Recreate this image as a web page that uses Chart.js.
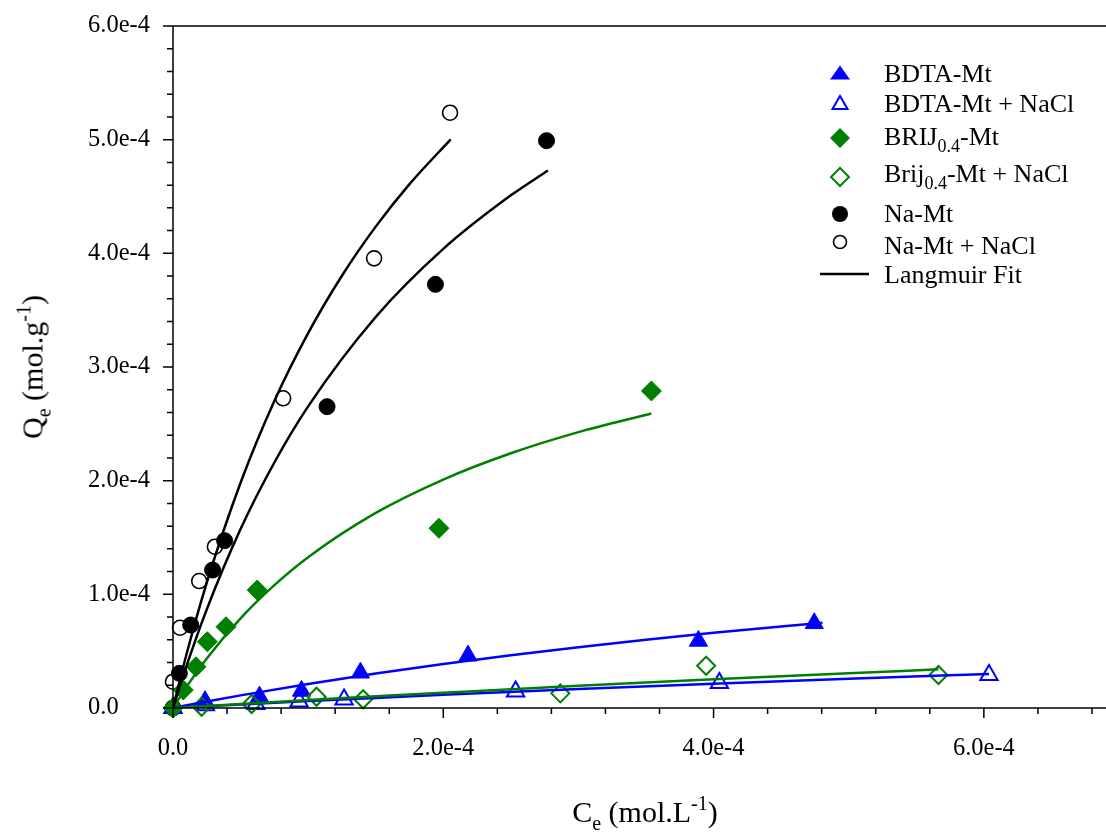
<!DOCTYPE html>
<html>
<head>
<meta charset="utf-8">
<script src="https://cdn.jsdelivr.net/npm/chart.js@4.4.1/dist/chart.umd.min.js"></script>
<style>
  html, body { margin: 0; padding: 0; background: #fff; }
  #wrap { position: relative; width: 1106px; height: 832px; overflow: hidden; font-family: "Liberation Serif", "Times New Roman", serif; color: #000; }
  #chart { position: absolute; left: 0; top: 0; }
  .title { position: absolute; white-space: nowrap; font-size: 30px; line-height: 36px; }
  .title .sub { position: relative; top: 8px; font-size: 20px; }
  .title .sup { position: relative; top: -12px; font-size: 20px; }
  .row { position: absolute; left: 884px; white-space: nowrap; font-size: 26px; line-height: 30px; }
  .row .sub { position: relative; top: 7px; font-size: 18px; }
  .mk { position: absolute; left: 828px; width: 24px; height: 24px; }
</style>
</head>
<body>
<div id="wrap">
  <canvas id="chart" width="1106" height="832"></canvas>

  <div class="title" id="yTitle" style="left:34px; top:367px; transform: translate(-50%, -50%) rotate(-90deg);">Q<span class="sub">e</span> (mol.g<span class="sup">-1</span>)</div>
  <div class="title" id="xTitle" style="left:645px; top:794px; transform: translateX(-50%);">C<span class="sub">e</span> (mol.L<span class="sup">-1</span>)</div>

  <!-- legend -->
  <svg class="mk" style="top:61px" viewBox="0 0 24 24"><polygon points="2,18.5 22,18.5 12,4.5" fill="#0000ff"/></svg>
  <div class="row" style="top:59px">BDTA-Mt</div>
  <svg class="mk" style="top:91px" viewBox="0 0 24 24"><polygon points="4.5,18 19.5,18 12,5" fill="none" stroke="#0000ff" stroke-width="2"/></svg>
  <div class="row" style="top:89px">BDTA-Mt + NaCl</div>
  <svg class="mk" style="top:126px" viewBox="0 0 24 24"><polygon points="12,2 22,12 12,22 2,12" fill="#008000"/></svg>
  <div class="row" style="top:122px">BRIJ<span class="sub">0.4</span>-Mt</div>
  <svg class="mk" style="top:165px" viewBox="0 0 24 24"><polygon points="12,3 21,12 12,21 3,12" fill="none" stroke="#008000" stroke-width="2"/></svg>
  <div class="row" style="top:159px">Brij<span class="sub">0.4</span>-Mt + NaCl</div>
  <svg class="mk" style="top:202px" viewBox="0 0 24 24"><circle cx="12" cy="12" r="8" fill="#000"/></svg>
  <div class="row" style="top:199px">Na-Mt</div>
  <svg class="mk" style="top:230px" viewBox="0 0 24 24"><circle cx="12" cy="12" r="6.5" fill="none" stroke="#000" stroke-width="1.6"/></svg>
  <div class="row" style="top:231px">Na-Mt + NaCl</div>
  <svg style="position:absolute; left:820px; top:262px; width:50px; height:24px;" viewBox="0 0 50 24"><line x1="0" y1="12" x2="49" y2="12" stroke="#000" stroke-width="2.5"/></svg>
  <div class="row" style="top:260px">Langmuir Fit</div>
</div>

<script>
// values in units of 1e-4 (Ce in mol/L, Qe in mol/g)

// measured points
var bdtaC = [0, 0.237, 0.640, 0.951, 1.387, 2.183, 3.888, 4.745];
var bdtaQ = [0, 0.060, 0.100, 0.150, 0.310, 0.460, 0.590, 0.745];
var bdtaNaclC = [0, 0.240, 0.613, 0.933, 1.266, 2.535, 4.043, 6.038];
var bdtaNaclQ = [0, 0.025, 0.035, 0.057, 0.075, 0.145, 0.220, 0.290];
var brijC = [0, 0.076, 0.170, 0.254, 0.392, 0.623, 1.968, 3.540];
var brijQ = [0, 0.158, 0.363, 0.583, 0.715, 1.038, 1.581, 2.789];
var brijNaclC = [0, 0.212, 0.582, 1.062, 1.407, 2.866, 3.945, 5.664];
var brijNaclQ = [0, 0.011, 0.035, 0.099, 0.077, 0.129, 0.372, 0.290];
var naMtC = [0, 0.047, 0.131, 0.293, 0.382, 1.140, 1.942, 2.764];
var naMtQ = [0, 0.305, 0.730, 1.214, 1.472, 2.651, 3.727, 4.991];
var naNaclC = [0, 0.052, 0.194, 0.310, 0.815, 1.488, 2.050];
var naNaclQ = [0.231, 0.706, 1.117, 1.419, 2.725, 3.956, 5.237];

// Langmuir fit curves
var fitBdtaC = [0, 0.25, 0.5, 1.0, 1.5, 2.0, 2.5, 3.0, 3.5, 4.0, 4.5, 4.806];
var fitBdtaQ = [0, 0.057, 0.111, 0.212, 0.303, 0.387, 0.464, 0.535, 0.600, 0.661, 0.718, 0.750];
var fitBdtaNaclC = [0, 0.5, 1.0, 1.5, 2.0, 3.0, 4.0, 5.0, 6.038];
var fitBdtaNaclQ = [0, 0.031, 0.061, 0.089, 0.116, 0.167, 0.214, 0.258, 0.299];
var fitBrijC = [0, 0.1, 0.25, 0.5, 0.75, 1.0, 1.5, 2.0, 2.5, 3.0, 3.54];
var fitBrijQ = [0, 0.186, 0.436, 0.789, 1.081, 1.327, 1.716, 2.010, 2.241, 2.427, 2.591];
var fitBrijNaclC = [0, 0.5, 1.0, 1.5, 2.0, 3.0, 4.0, 5.0, 5.664];
var fitBrijNaclQ = [0, 0.035, 0.070, 0.103, 0.134, 0.195, 0.252, 0.306, 0.340];
var fitNaMtC = [0, 0.1, 0.25, 0.5, 0.75, 1.0, 1.5, 2.0, 2.5, 2.774];
var fitNaMtQ = [0, 0.370, 0.868, 1.574, 2.160, 2.654, 3.440, 4.039, 4.510, 4.728];
var fitNaNaclC = [0, 0.1, 0.25, 0.5, 0.75, 1.0, 1.25, 1.5, 1.75, 2.055];
var fitNaNaclQ = [0, 0.473, 1.103, 1.982, 2.701, 3.298, 3.803, 4.235, 4.609, 5.003];

// axis ticks (major ones get a label)
var xTickVals = [0, 0.4, 0.8, 1.2, 1.6, 2.0, 2.4, 2.8, 3.2, 3.6, 4.0, 4.4, 4.8, 5.2, 5.6, 6.0, 6.4, 6.8];
var xMajor = [0, 2, 4, 6];
var yTickVals = [0, 0.2, 0.4, 0.6, 0.8, 1.0, 1.2, 1.4, 1.6, 1.8, 2.0, 2.2, 2.4, 2.6, 2.8, 3.0, 3.2, 3.4, 3.6, 3.8, 4.0, 4.2, 4.4, 4.6, 4.8, 5.0, 5.2, 5.4, 5.6, 5.8, 6.0];
var yMajor = [0, 1, 2, 3, 4, 5, 6];

var BLUE = '#0000ff', GREEN = '#008000', BLACK = '#000000';

function pts(xs, ys) {
  return xs.map(function (x, i) { return { x: x, y: ys[i] }; });
}
function isMajor(v, list) {
  return list.some(function (m) { return Math.abs(m - v) < 1e-6; });
}
function fmt(v) {
  return v === 0 ? '0.0' : v.toFixed(1) + 'e-4';
}

function marker(label, xs, ys, style, radius, color, filled, bw) {
  return {
    type: 'scatter', label: label, data: pts(xs, ys), order: 1, clip: false,
    pointStyle: style, pointRadius: radius, pointHoverRadius: radius,
    pointBackgroundColor: filled ? color : 'rgba(0,0,0,0)',
    pointBorderColor: color, pointBorderWidth: bw
  };
}
function fit(xs, ys, color) {
  return {
    type: 'line', label: 'Langmuir Fit', data: pts(xs, ys), order: 0,
    borderColor: color, borderWidth: 2.5, pointRadius: 0, fill: false,
    cubicInterpolationMode: 'monotone'
  };
}

// tick marks, axis lines and top frame line
var frame = {
  id: 'frame',
  afterDraw: function (chart) {
    var ctx = chart.ctx, a = chart.chartArea, xs = chart.scales.x, ys = chart.scales.y;
    ctx.save();
    ctx.strokeStyle = '#000';
    ctx.lineWidth = 1.5;
    ctx.beginPath();
    ctx.moveTo(a.left, a.top); ctx.lineTo(chart.width, a.top);
    ctx.moveTo(a.left, a.top); ctx.lineTo(a.left, a.bottom);
    ctx.moveTo(a.left, a.bottom); ctx.lineTo(chart.width, a.bottom);
    xTickVals.forEach(function (v) {
      var px = xs.getPixelForValue(v);
      ctx.moveTo(px, a.bottom); ctx.lineTo(px, a.bottom + (isMajor(v, xMajor) ? 10 : 6));
    });
    yTickVals.forEach(function (v) {
      var py = ys.getPixelForValue(v);
      ctx.moveTo(a.left, py); ctx.lineTo(a.left - (isMajor(v, yMajor) ? 10 : 6), py);
    });
    ctx.stroke();
    ctx.restore();
  }
};

Chart.defaults.font.family = '"Liberation Serif", "Times New Roman", serif';
Chart.defaults.color = '#000';

new Chart(document.getElementById('chart'), {
  type: 'scatter',
  data: {
    datasets: [
      fit(fitNaNaclC, fitNaNaclQ, BLACK),
      fit(fitNaMtC, fitNaMtQ, BLACK),
      fit(fitBrijC, fitBrijQ, GREEN),
      fit(fitBrijNaclC, fitBrijNaclQ, GREEN),
      fit(fitBdtaC, fitBdtaQ, BLUE),
      fit(fitBdtaNaclC, fitBdtaNaclQ, BLUE),
      marker('Brij0.4-Mt + NaCl', brijNaclC, brijNaclQ, 'rectRot', 9, GREEN, false, 2),
      marker('BRIJ0.4-Mt', brijC, brijQ, 'rectRot', 10, GREEN, true, 1),
      marker('BDTA-Mt + NaCl', bdtaNaclC, bdtaNaclQ, 'triangle', 10, BLUE, false, 2),
      marker('BDTA-Mt', bdtaC, bdtaQ, 'triangle', 10.5, BLUE, true, 1),
      marker('Na-Mt + NaCl', naNaclC, naNaclQ, 'circle', 7.5, BLACK, false, 1.6),
      marker('Na-Mt', naMtC, naMtQ, 'circle', 8, BLACK, true, 1)
    ]
  },
  options: {
    responsive: false,
    devicePixelRatio: 1,
    animation: false,
    events: [],
    layout: { padding: { top: 26, right: 4, left: 88, bottom: 0 } },
    plugins: { legend: { display: false }, tooltip: { enabled: false } },
    scales: {
      x: {
        type: 'linear', min: 0, max: 6.815,
        afterBuildTicks: function (s) { s.ticks = xTickVals.map(function (v) { return { value: v }; }); },
        afterFit: function (s) { s.height = 124; s.paddingLeft = 0; s.paddingRight = 0; },
        grid: { display: false, drawTicks: false },
        border: { display: false },
        ticks: {
          autoSkip: false, maxRotation: 0, padding: 26,
          font: { size: 24.5 },
          callback: function (v) { return isMajor(v, xMajor) ? fmt(v) : ''; }
        }
      },
      y: {
        type: 'linear', min: 0, max: 6,
        afterBuildTicks: function (s) { s.ticks = yTickVals.map(function (v) { return { value: v }; }); },
        afterFit: function (s) { s.width = 85; s.paddingTop = 0; s.paddingBottom = 0; },
        grid: { display: false, drawTicks: false },
        border: { display: false },
        ticks: {
          autoSkip: false, padding: 23, crossAlign: 'far',
          font: { size: 24.5 },
          callback: function (v) { return isMajor(v, yMajor) ? fmt(v) : ''; }
        }
      }
    }
  },
  plugins: [frame]
});
</script>
</body>
</html>
